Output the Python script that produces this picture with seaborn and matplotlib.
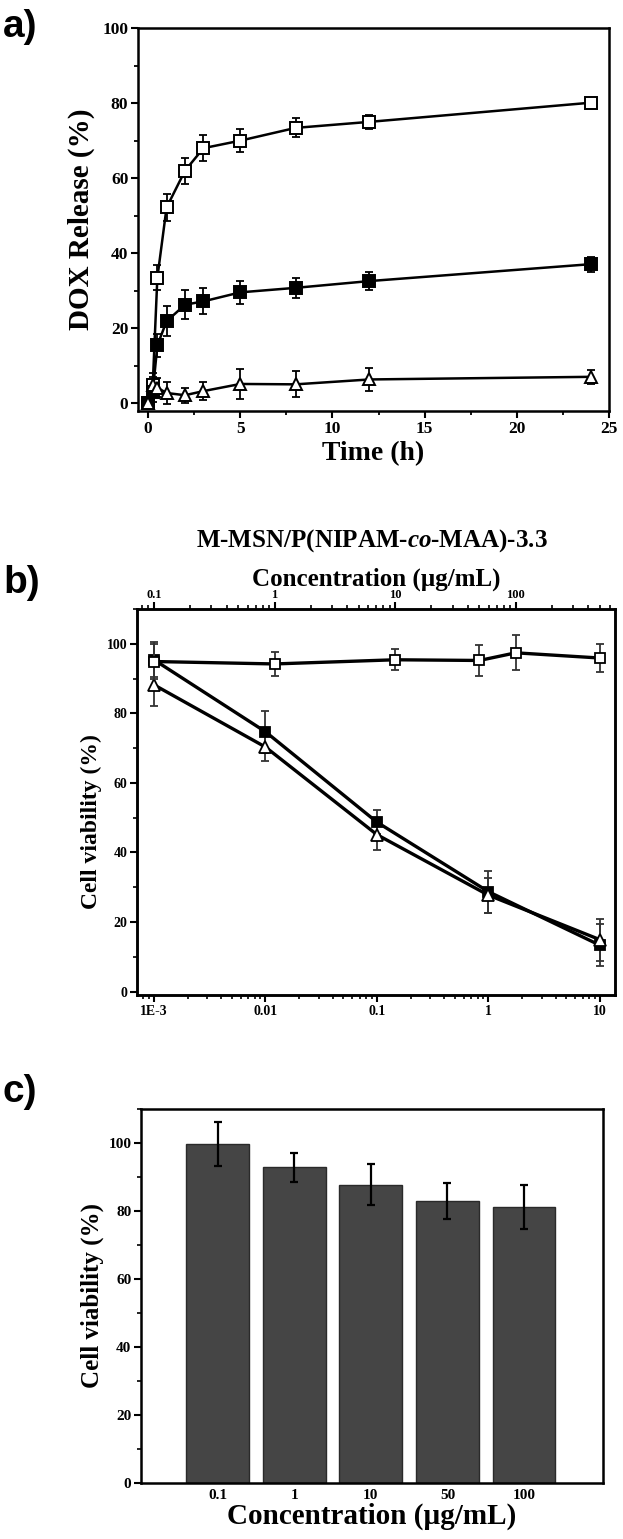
import matplotlib
matplotlib.use("Agg")
import matplotlib.pyplot as plt
import seaborn as sns
import numpy as np
import pandas as pd
from matplotlib.ticker import MultipleLocator, LogLocator, NullFormatter

# ---- panel a: DOX release vs time ----
time_h = [0, 0.25, 0.5, 1, 2, 3, 5, 8, 12, 24]
rel_open = [0, 5, 33.5, 52.2, 62, 68, 70, 73.4, 75, 80.1]
rel_open_err = [1, 2, 3.3, 3.5, 3.5, 3.4, 3, 2.5, 1.8, 1.3]
rel_filled = [0, 3, 15.5, 21.9, 26.3, 27.2, 29.6, 30.8, 32.6, 37.1]
rel_filled_err = [1, 2.5, 3, 4, 3.8, 3.5, 3, 2.7, 2.5, 2]
rel_tri = [0, 5, 4.2, 2.8, 2.2, 3.3, 5.2, 5.1, 6.4, 7.1]
rel_tri_err = [1, 3, 2.5, 3, 2, 2.5, 4, 3.5, 3, 1.8]

# ---- panel b: cell viability vs concentration ----
dox_conc = [1e-3, 1e-2, 1e-1, 1, 10]
dox_ticklabels = ["1E-3", "0.01", "0.1", "1", "10"]
carrier_conc = [0.1, 1, 10, 50, 100, 500]
carrier_ticks = [0.1, 1, 10, 100]
carrier_ticklabels = ["0.1", "1", "10", "100"]
via_carrier = [94.9, 94.2, 95.4, 95.2, 97.4, 95.9]
via_carrier_err = [5, 3.5, 3, 4.5, 5, 4]
via_filled = [95.4, 74.7, 48.7, 28.7, 13.3]
via_filled_err = [5, 6, 3.5, 6, 6]
via_tri = [88.2, 70.3, 45.1, 27.7, 14.9]
via_tri_err = [6, 4, 4.5, 5, 6]

# ---- panel c: bar chart ----
conc_labels = ["0.1", "1", "10", "50", "100"]
via_c = [99.8, 92.8, 87.7, 83.0, 81.1]
via_c_err = [6.5, 4.4, 6.0, 5.3, 6.5]

sns.set_theme(style="ticks")
plt.rcParams['font.family'] = ['Liberation Serif', 'DejaVu Serif']
plt.rcParams['font.weight'] = 'bold'
plt.rcParams['axes.labelweight'] = 'bold'
plt.rcParams['text.color'] = 'black'
plt.rcParams['axes.labelcolor'] = 'black'
plt.rcParams['xtick.color'] = 'black'
plt.rcParams['ytick.color'] = 'black'
plt.rcParams['mathtext.fontset'] = 'custom'
plt.rcParams['mathtext.rm'] = 'Liberation Serif:bold'
plt.rcParams['mathtext.it'] = 'Liberation Serif:italic:bold'
plt.rcParams['mathtext.bf'] = 'Liberation Serif:bold'

W, H = 623, 1539
fig = plt.figure(figsize=(W / 100, H / 100), dpi=100)


def box(l, r, t, b):
    return [l / W, 1 - b / H, (r - l) / W, (b - t) / H]


def style_spines(ax, lw=1.8):
    for s in ax.spines.values():
        s.set_visible(True)
        s.set_linewidth(lw)
        s.set_color('black')


# ================= a =================
ax = fig.add_axes(box(138, 609, 28, 411))
style_spines(ax)
for y, e, face, mk in [(rel_open, rel_open_err, 'white', 's'),
                       (rel_filled, rel_filled_err, 'black', 's'),
                       (rel_tri, rel_tri_err, 'white', '^')]:
    ax.errorbar(time_h, y, yerr=e, fmt='none', ecolor='black', elinewidth=1.3,
                capsize=3, capthick=1.3, zorder=2)
    sns.lineplot(x=time_h, y=y, ax=ax, color='black', linewidth=1.8,
                 marker=mk, markersize=8 if mk == 's' else 9,
                 markerfacecolor=face, markeredgecolor='black',
                 markeredgewidth=1.4, zorder=3)
ax.set_xlim(-0.55, 25)
ax.set_ylim(-2, 100)
ax.xaxis.set_major_locator(MultipleLocator(5))
ax.xaxis.set_minor_locator(MultipleLocator(2.5))
ax.yaxis.set_major_locator(MultipleLocator(20))
ax.yaxis.set_minor_locator(MultipleLocator(10))
ax.tick_params(which='major', length=5, width=1.5, labelsize=12.5, pad=2)
ax.tick_params(which='minor', length=3, width=1.3)
ax.set_xlabel("Time (h)", fontsize=20, labelpad=3)
ax.set_ylabel("DOX Release (%)", fontsize=21)
ax.yaxis.set_label_coords(-0.092, 0.5)

# ================= b =================
axb = fig.add_axes(box(137, 615, 609, 995))
style_spines(axb)
axb.set_xscale('log')
lo, hi = 10 ** -3.152, 10 ** 1.1345
axb.set_xlim(lo, hi)
axb.set_ylim(-1, 110)
for y, e, face, mk in [(via_filled, via_filled_err, 'black', 's'),
                       (via_tri, via_tri_err, 'white', '^')]:
    axb.errorbar(dox_conc, y, yerr=e, fmt='none', ecolor='#333333', elinewidth=1.3,
                 capsize=3, capthick=1.3, zorder=2)
    sns.lineplot(x=dox_conc, y=y, ax=axb, color='black', linewidth=2.4,
                 marker=mk, markersize=7 if mk == 's' else 8,
                 markerfacecolor=face, markeredgecolor='black',
                 markeredgewidth=1.3, zorder=3)
axb.set_xticks(dox_conc)
axb.set_xticklabels(dox_ticklabels)
axb.xaxis.set_minor_locator(LogLocator(base=10, subs=np.arange(2, 10)))
axb.xaxis.set_minor_formatter(NullFormatter())
axb.yaxis.set_major_locator(MultipleLocator(20))
axb.yaxis.set_minor_locator(MultipleLocator(10))
axb.tick_params(which='major', length=5, width=1.5, labelsize=10, pad=2)
axb.tick_params(which='minor', length=3, width=1.2)
axb.set_ylabel("Cell viability (%)", fontsize=17)
axb.yaxis.set_label_coords(-0.073, 0.45)

# top axis: carrier concentration (0.1 <-> 1E-3, 500 <-> 10)
k = (np.log10(500) + 1) / 4
ax2 = axb.twiny()
ax2.set_xscale('log')
ax2.set_xlim(10 ** (-1 + k * (np.log10(lo) + 3)), 10 ** (-1 + k * (np.log10(hi) + 3)))
ax2.errorbar(carrier_conc, via_carrier, yerr=via_carrier_err, fmt='none',
             ecolor='#333333', elinewidth=1.3, capsize=3, capthick=1.3, zorder=2)
sns.lineplot(x=carrier_conc, y=via_carrier, ax=ax2, color='black', linewidth=2.4,
             marker='s', markersize=7, markerfacecolor='white',
             markeredgecolor='black', markeredgewidth=1.3, zorder=3)
ax2.set_xticks(carrier_ticks)
ax2.set_xticklabels(carrier_ticklabels)
ax2.xaxis.set_minor_locator(LogLocator(base=10, subs=np.arange(2, 10)))
ax2.xaxis.set_minor_formatter(NullFormatter())
ax2.tick_params(which='major', length=5, width=1.5, labelsize=9, pad=1)
ax2.tick_params(which='minor', length=3, width=1.2)
ax2.set_ylabel("")
ax2.set_xlabel("Concentration (µg/mL)", fontsize=18, labelpad=2)
style_spines(ax2)
fig.text(372 / W, 1 - 541 / H, r"M-MSN/P(NIPAM-$\mathit{co}$-MAA)-3.3",
         fontsize=18, fontweight='bold', ha='center', va='center')

# ================= c =================
axc = fig.add_axes(box(141, 603, 1109, 1483))
style_spines(axc)
df = pd.DataFrame({"conc": conc_labels, "viability": via_c})
sns.barplot(data=df, x="conc", y="viability", order=conc_labels, ax=axc,
            color='#454545', edgecolor='#2a2a2a', linewidth=1, width=0.82,
            saturation=1, errorbar=None)
axc.errorbar(range(len(conc_labels)), via_c, yerr=via_c_err, fmt='none',
             ecolor='black', elinewidth=1.6, capsize=3, capthick=1.6, zorder=3)
axc.set_xlim(-1.0, 5.03)
axc.set_ylim(0, 110)
axc.yaxis.set_major_locator(MultipleLocator(20))
axc.yaxis.set_minor_locator(MultipleLocator(10))
axc.tick_params(axis='y', which='major', length=5, width=1.5, labelsize=11, pad=2)
axc.tick_params(axis='y', which='minor', length=3, width=1.2)
axc.tick_params(axis='x', length=0, labelsize=11, pad=4)
axc.set_xlabel("Concentration (µg/mL)", fontsize=21, labelpad=1)
axc.set_ylabel("Cell viability (%)", fontsize=18)
axc.yaxis.set_label_coords(-0.08, 0.5)

# panel letters
for lbl, yc in [("a)", 27), ("b)", 583), ("c)", 1092)]:
    fig.text(3 / W, 1 - yc / H, lbl, fontsize=28, fontweight='bold',
             family=['Liberation Sans', 'DejaVu Sans'], ha='left', va='center')

fig.savefig("out.png", dpi=100)
